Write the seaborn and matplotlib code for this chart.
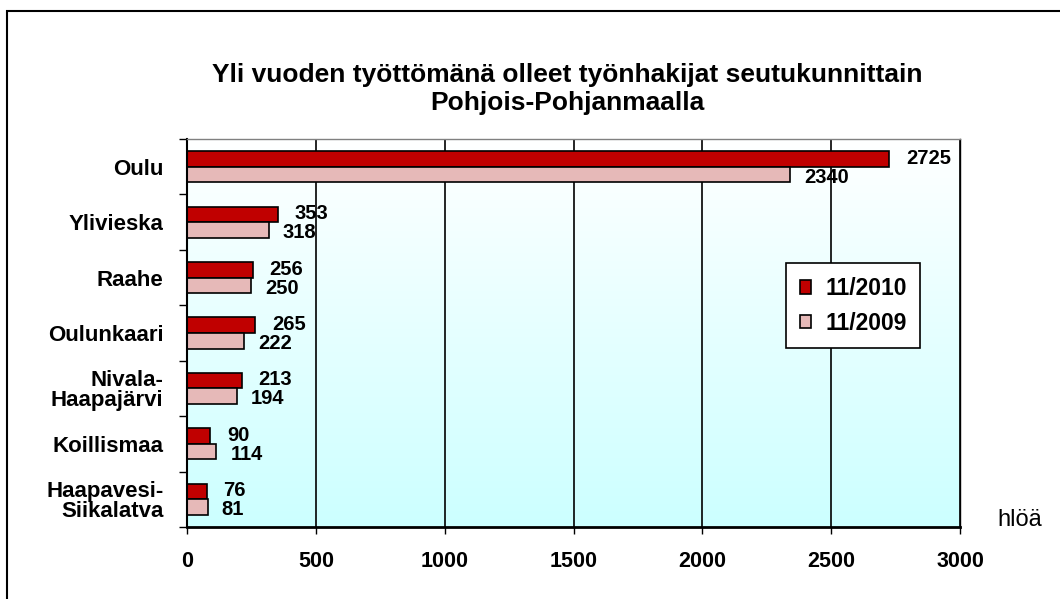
import numpy as np
import pandas as pd
import matplotlib.pyplot as plt
from matplotlib.patches import Rectangle
from matplotlib.colors import LinearSegmentedColormap
import seaborn as sns

# data
regions = ['Oulu', 'Ylivieska', 'Raahe', 'Oulunkaari', 'Nivala-\nHaapajärvi',
           'Koillismaa', 'Haapavesi-\nSiikalatva']
v2010 = [2725, 353, 256, 265, 213, 90, 76]
v2009 = [2340, 318, 250, 222, 194, 114, 81]
series = ['11/2010', '11/2009']
colors = ['#C00000', '#E6B9B8']
xticks = [0, 500, 1000, 1500, 2000, 2500, 3000]

df = pd.DataFrame({
    'alue': regions * 2,
    'hloa': v2010 + v2009,
    'kk': [series[0]] * len(regions) + [series[1]] * len(regions),
})

sns.set_style('white')
plt.rcParams['font.family'] = ['Liberation Sans', 'DejaVu Sans']
plt.rcParams.update({'text.color': 'black', 'xtick.color': 'black',
                     'ytick.color': 'black', 'axes.labelcolor': 'black'})

fig = plt.figure(figsize=(10.6, 5.99), dpi=100)
ax = fig.add_axes([187 / 1060, 1 - 527 / 599, (960 - 187) / 1060, (527 - 139) / 599])

# taustan liukuväri: valkoinen ylhäällä, vaalea turkoosi alhaalla
grad = np.linspace(0, 1, 256).reshape(-1, 1)
cmap = LinearSegmentedColormap.from_list('bg', ['#FFFFFF', '#CCFFFF'])
ax.imshow(grad, extent=[0, 1, 0, 1], transform=ax.transAxes, cmap=cmap,
          aspect='auto', origin='upper', zorder=0)

sns.barplot(data=df, y='alue', x='hloa', hue='kk', palette=colors, orient='h',
            width=0.56, edgecolor='black', linewidth=1.2, saturation=1,
            ax=ax, zorder=2)

ax.set_xlim(0, 3000)
ax.set_ylim(len(regions) - 0.5, -0.5)
ax.set_xlabel('')
ax.set_ylabel('')

ax.set_axisbelow(True)
ax.xaxis.grid(True, color='black', linewidth=1.2)
ax.yaxis.grid(False)

ax.set_xticks(xticks)
ax.set_xticklabels([str(t) for t in xticks], fontweight='bold')
ax.tick_params(axis='x', bottom=True, direction='out', length=5, width=1,
               pad=12, labelsize=15.5)
ax.tick_params(axis='y', which='major', left=False, length=0, pad=17, labelsize=16)
for lbl in ax.get_yticklabels():
    lbl.set_fontweight('bold')
    lbl.set_multialignment('right')
    lbl.set_linespacing(0.95)
ax.set_yticks(np.arange(-0.5, len(regions), 1), minor=True)
ax.tick_params(axis='y', which='minor', left=True, direction='out', length=6, width=1)

for side, col, lw in [('left', 'black', 1.5), ('bottom', 'black', 2),
                      ('top', '#808080', 1), ('right', 'black', 1)]:
    ax.spines[side].set_visible(True)
    ax.spines[side].set_color(col)
    ax.spines[side].set_linewidth(lw)

# arvot palkkien perään
for cont, pad, dy in zip(ax.containers, [12, 10], [0.5, -2]):
    for bar in cont:
        w = bar.get_width()
        y = bar.get_y() + bar.get_height() / 2
        ax.annotate(f'{w:.0f}', (w, y), xytext=(pad, dy), textcoords='offset points',
                    ha='left', va='center', fontsize=14.5, fontweight='bold', zorder=5)

handles, labels = ax.get_legend_handles_labels()
leg = ax.legend(handles, labels, loc='center', bbox_to_anchor=(0.862, 0.57),
                frameon=True, fancybox=False, edgecolor='black', framealpha=1,
                facecolor='white', prop={'weight': 'bold', 'size': 16.5},
                handlelength=0.5, handleheight=0.5, handletextpad=0.6,
                labelspacing=0.5, borderpad=0.6)
leg.get_frame().set_linewidth(1.2)

fig.text(567 / 1060, 1 - 89 / 599,
         'Yli vuoden työttömänä olleet työnhakijat seutukunnittain\nPohjois-Pohjanmaalla',
         ha='center', va='center', fontsize=19, fontweight='bold', linespacing=1.2)
fig.text(997 / 1060, 1 - 526 / 599, 'hlöä', ha='left', va='baseline', fontsize=17)

# kaavion reunaviiva
fig.add_artist(Rectangle((7 / 1060, -0.5), 2, 0.5 + 1 - 11 / 599,
                         transform=fig.transFigure, fill=False,
                         edgecolor='black', linewidth=1.5))

fig.savefig('out.png', dpi=100)
